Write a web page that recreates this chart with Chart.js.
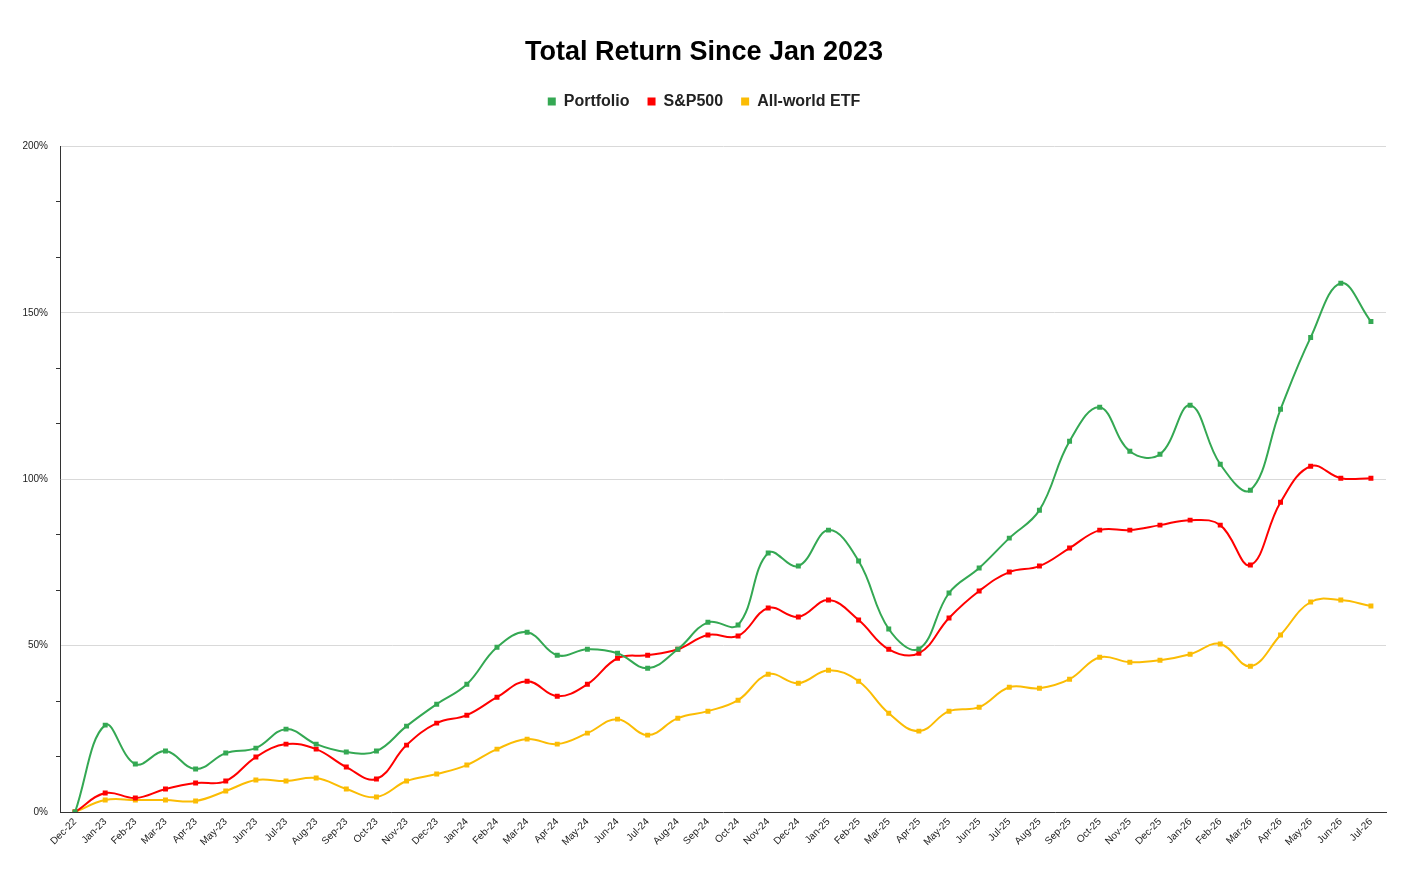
<!DOCTYPE html>
<html>
<head>
<meta charset="utf-8">
<script src="https://cdn.jsdelivr.net/npm/chart.js@4"></script>
<style>
  html, body { margin: 0; padding: 0; background: #ffffff; }
  #wrap { width: 1408px; height: 870px; position: relative; }
</style>
</head>
<body>
<div id="wrap"><canvas id="c"></canvas></div>
<script>
const months = ["Dec-22","Jan-23","Feb-23","Mar-23","Apr-23","May-23","Jun-23","Jul-23","Aug-23","Sep-23","Oct-23","Nov-23","Dec-23",
  "Jan-24","Feb-24","Mar-24","Apr-24","May-24","Jun-24","Jul-24","Aug-24","Sep-24","Oct-24","Nov-24","Dec-24",
  "Jan-25","Feb-25","Mar-25","Apr-25","May-25","Jun-25","Jul-25","Aug-25","Sep-25","Oct-25","Nov-25","Dec-25",
  "Jan-26","Feb-26","Mar-26","Apr-26","May-26","Jun-26","Jul-26"];

const portfolio = [0, 26.1, 14.4, 18.3, 12.9, 17.7, 19.2, 24.9, 20.4, 18.0, 18.3, 25.8, 32.4,
  38.4, 49.5, 54.0, 47.1, 48.9, 47.7, 43.2, 48.9, 57.0, 56.2, 77.8, 73.9,
  84.7, 75.4, 55.0, 49.0, 65.8, 73.3, 82.3, 90.7, 111.4, 121.6, 108.4, 107.5,
  122.2, 104.5, 96.7, 121.0, 142.6, 158.9, 147.4];

const sp500 = [0, 5.7, 4.2, 6.9, 8.7, 9.3, 16.5, 20.4, 18.9, 13.5, 9.9, 20.1, 26.7,
  29.1, 34.5, 39.3, 34.8, 38.4, 46.2, 47.1, 48.9, 53.2, 52.9, 61.3, 58.6,
  63.7, 57.7, 48.9, 47.7, 58.3, 66.4, 72.1, 73.9, 79.3, 84.7, 84.7, 86.2,
  87.7, 86.2, 74.2, 93.1, 103.9, 100.3, 100.3];

const allWorld = [0, 3.6, 3.6, 3.6, 3.3, 6.3, 9.6, 9.3, 10.2, 6.9, 4.5, 9.3, 11.4,
  14.1, 18.9, 21.9, 20.4, 23.7, 27.9, 23.1, 28.2, 30.3, 33.6, 41.4, 38.7,
  42.6, 39.3, 29.7, 24.3, 30.3, 31.5, 37.5, 37.2, 39.9, 46.5, 45.0, 45.6,
  47.4, 50.5, 43.8, 53.2, 63.1, 63.7, 61.9];

const yTickValues = [0, 50/3, 100/3, 50, 200/3, 250/3, 100, 350/3, 400/3, 150, 500/3, 550/3, 200];

const FONT = "'Liberation Sans', Arial, sans-serif";

function ds(label, data, color) {
  return {
    label: label,
    data: data,
    borderColor: color,
    backgroundColor: color,
    borderWidth: 2,
    tension: 0.4,
    pointStyle: 'rect',
    pointRadius: 3.5,
    pointHoverRadius: 3.5,
    pointBorderWidth: 0,
    fill: false
  };
}

// adds blank space under the legend so the plot starts lower
const legendGap = {
  id: 'legendGap',
  afterInit(chart) {
    const lg = chart.legend;
    if (!lg) return;
    const origFit = lg.fit;
    lg.fit = function() {
      origFit.apply(this, arguments);
      this.height += 27;
    };
  }
};

new Chart(document.getElementById('c'), {
  type: 'line',
  data: {
    labels: months,
    datasets: [
      ds('Portfolio', portfolio, '#34A853'),
      ds('S&P500', sp500, '#FF0000'),
      ds('All-world ETF', allWorld, '#FBBC04')
    ]
  },
  plugins: [legendGap],
  options: {
    responsive: true,
    maintainAspectRatio: false,
    animation: false,
    devicePixelRatio: 1,
    layout: { padding: { left: 22, right: 22, top: 0, bottom: 0 } },
    plugins: {
      title: {
        display: true,
        text: 'Total Return Since Jan 2023',
        color: '#000000',
        font: { family: FONT, size: 27, weight: 'bold' },
        padding: { top: 36, bottom: 7 }
      },
      legend: {
        display: true,
        position: 'top',
        labels: {
          color: '#222222',
          font: { family: FONT, size: 16, weight: 'bold' },
          usePointStyle: true,
          pointStyle: 'rect',
          boxWidth: 8,
          boxHeight: 8,
          padding: 18
        }
      },
      tooltip: { enabled: false }
    },
    scales: {
      x: {
        offset: true,
        grid: { display: false, drawTicks: false },
        border: { display: true, color: '#333333', width: 1 },
        ticks: {
          autoSkip: false,
          maxRotation: 45,
          minRotation: 45,
          color: '#222222',
          padding: 4,
          font: { family: FONT, size: 10 }
        },
        afterFit: function(scale) { scale.height = 58; }
      },
      y: {
        min: 0,
        max: 200,
        afterBuildTicks: function(scale) {
          scale.ticks = yTickValues.map(v => ({ value: v }));
        },
        grid: {
          color: ctx => (ctx.index % 3 === 0 && ctx.index > 0) ? '#d9d9d9' : 'rgba(0,0,0,0)',
          tickColor: ctx => (ctx.index % 3 === 0) ? 'rgba(0,0,0,0)' : '#333333',
          tickLength: 4,
          lineWidth: 1
        },
        border: { display: true, color: '#333333', width: 1 },
        ticks: {
          color: '#222222',
          padding: 8,
          font: { family: FONT, size: 10 },
          callback: function(value, index) {
            return index % 3 === 0 ? Math.round(value) + '%' : '';
          }
        },
        afterFit: function(scale) { scale.width = 38; }
      }
    }
  }
});
</script>
</body>
</html>
